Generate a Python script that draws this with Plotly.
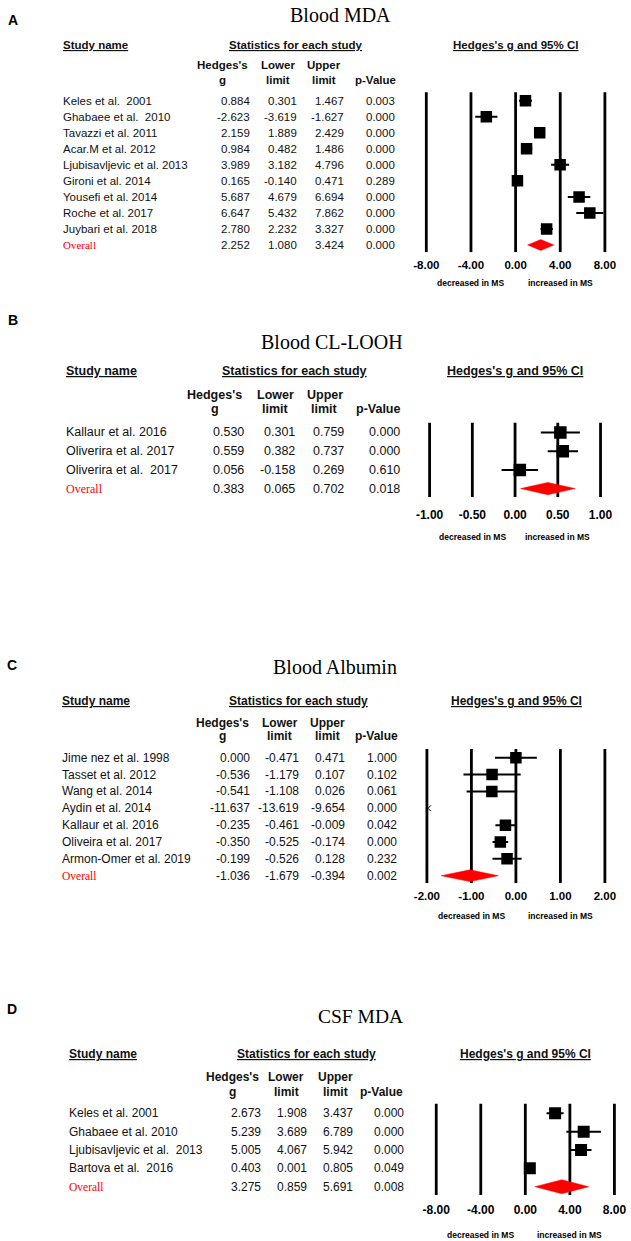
import plotly.graph_objects as go

W, H = 631, 1241

# ---------------- data ----------------
# Panel A: Blood MDA
mda_studies = ["Keles et al.  2001", "Ghabaee et al.  2010", "Tavazzi et al. 2011", "Acar.M et al. 2012",
               "Ljubisavljevic et al. 2013", "Gironi et al. 2014", "Yousefi et al. 2014", "Roche et al. 2017",
               "Juybari et al. 2018"]
mda_g = [0.884, -2.623, 2.159, 0.984, 3.989, 0.165, 5.687, 6.647, 2.780]
mda_lo = [0.301, -3.619, 1.889, 0.482, 3.182, -0.140, 4.679, 5.432, 2.232]
mda_hi = [1.467, -1.627, 2.429, 1.486, 4.796, 0.471, 6.694, 7.862, 3.327]
mda_p = ["0.003", "0.000", "0.000", "0.000", "0.000", "0.289", "0.000", "0.000", "0.000"]
mda_overall = [2.252, 1.080, 3.424]
mda_overall_p = "0.000"
mda_ticks = [-8, -4, 0, 4, 8]

# Panel B: Blood CL-LOOH
cl_studies = ["Kallaur et al. 2016", "Oliverira et al. 2017", "Oliverira et al.  2017"]
cl_g = [0.530, 0.559, 0.056]
cl_lo = [0.301, 0.382, -0.158]
cl_hi = [0.759, 0.737, 0.269]
cl_p = ["0.000", "0.000", "0.610"]
cl_overall = [0.383, 0.065, 0.702]
cl_overall_p = "0.018"
cl_ticks = [-1.0, -0.5, 0.0, 0.5, 1.0]

# Panel C: Blood Albumin
alb_studies = ["Jime nez et al. 1998", "Tasset et al. 2012", "Wang et al. 2014", "Aydin et al. 2014",
               "Kallaur et al. 2016", "Oliveira et al. 2017", "Armon-Omer et al. 2019"]
alb_g = [0.000, -0.536, -0.541, -11.637, -0.235, -0.350, -0.199]
alb_lo = [-0.471, -1.179, -1.108, -13.619, -0.461, -0.525, -0.526]
alb_hi = [0.471, 0.107, 0.026, -9.654, -0.009, -0.174, 0.128]
alb_p = ["1.000", "0.102", "0.061", "0.000", "0.042", "0.000", "0.232"]
alb_overall = [-1.036, -1.679, -0.394]
alb_overall_p = "0.002"
alb_ticks = [-2, -1, 0, 1, 2]

# Panel D: CSF MDA
csf_studies = ["Keles et al. 2001", "Ghabaee et al. 2010", "Ljubisavljevic et al.  2013", "Bartova et al.  2016"]
csf_g = [2.673, 5.239, 5.005, 0.403]
csf_lo = [1.908, 3.689, 4.067, 0.001]
csf_hi = [3.437, 6.789, 5.942, 0.805]
csf_p = ["0.000", "0.000", "0.000", "0.049"]
csf_overall = [3.275, 0.859, 5.691]
csf_overall_p = "0.008"
csf_ticks = [-8, -4, 0, 4, 8]

overall_label = "Overall"
col_headers = [("Hedges's", "g"), ("Lower", "limit"), ("Upper", "limit"), ("", "p-Value")]
direction_labels = ["decreased in MS", "increased in MS"]

# ---------------- layout of each panel (pixels) ----------------
panels = [
    dict(letter="A", title="Blood MDA", studies=mda_studies, g=mda_g, lo=mda_lo, hi=mda_hi, p=mda_p,
         ov=mda_overall, ovp=mda_overall_p, ticks=mda_ticks,
         label_xy=(10, 20), title_xy=(340, 15), title_fs=20, hdr_y=45, stat_cx=295.8, ci_cx=517,
         col_y=(65, 80), col_cx=(221, 277, 324, 375), row0=100.7, step=16.03, name_x=59.6,
         num_x=(250.3, 297.8, 344.9, 396.4), ax_px=(426.7, 606.7), tick_y=265, dir_y=283.3,
         fs=11.5, tick_fs=11.5, dir_fs=8.5, sq=11.5, dh=0.34),
    dict(letter="B", title="Blood CL-LOOH", studies=cl_studies, g=cl_g, lo=cl_lo, hi=cl_hi, p=cl_p,
         ov=cl_overall, ovp=cl_overall_p, ticks=cl_ticks,
         label_xy=(10, 320), title_xy=(332, 341.7), title_fs=20, hdr_y=370.7, stat_cx=293.4, ci_cx=516.1,
         col_y=(395, 409), col_cx=(213.5, 274.6, 324.4, 378.7), row0=432.5, step=18.7, name_x=62.4,
         num_x=(243.5, 295, 344.9, 401.2), ax_px=(430, 602.3), tick_y=515, dir_y=536.7,
         fs=12.5, tick_fs=12, dir_fs=8.5, sq=12.5, dh=0.33),
    dict(letter="C", title="Blood Albumin", studies=alb_studies, g=alb_g, lo=alb_lo, hi=alb_hi, p=alb_p,
         ov=alb_overall, ovp=alb_overall_p, ticks=alb_ticks,
         label_xy=(9.5, 665), title_xy=(335, 666.7), title_fs=20, hdr_y=701, stat_cx=297.6, ci_cx=518,
         col_y=(722.7, 736), col_cx=(221.3, 278.9, 326.6, 376.3), row0=757.7, step=16.86, name_x=58.4,
         num_x=(250.3, 299.8, 346, 398.4), ax_px=(427.3, 606.7), tick_y=896, dir_y=916,
         fs=12, tick_fs=11.5, dir_fs=8.5, sq=11.5, dh=0.35),
    dict(letter="D", title="CSF MDA", studies=csf_studies, g=csf_g, lo=csf_lo, hi=csf_hi, p=csf_p,
         ov=csf_overall, ovp=csf_overall_p, ticks=csf_ticks,
         label_xy=(9.5, 1009), title_xy=(360, 1016.7), title_fs=19.5, hdr_y=1054.3, stat_cx=306, ci_cx=526.5,
         col_y=(1077.3, 1091.7), col_cx=(231.4, 285.7, 335, 381.3), row0=1113.3, step=18.35, name_x=65.2,
         num_x=(260.8, 307.8, 354.1, 405.6), ax_px=(436.7, 616.3), tick_y=1210, dir_y=1235,
         fs=12, tick_fs=12, dir_fs=8.5, sq=12, dh=0.38),
]

SANS = "Liberation Sans, Arial, sans-serif"
SERIF = "Liberation Serif, Times New Roman, serif"
RED = "#ff0000"
INK = "#111111"


def py(pix):
    return 1 - pix / H


def pxp(pix):
    return pix / W


fig = go.Figure()
annotations = []
shapes = []
axes = {}


def ann(text, x, y, yref="paper", xref="paper", xanchor="left", size=12, family=SANS, color=INK, bold=False):
    annotations.append(dict(text=text, x=x, y=y, xref=xref, yref=yref, xanchor=xanchor, yanchor="middle",
                            showarrow=False, borderpad=0,
                            font=dict(family=family, size=size, color=color,
                                      weight="bold" if bold else "normal")))


for k, P in enumerate(panels, start=1):
    xa = "x" if k == 1 else f"x{k}"
    ya = "y" if k == 1 else f"y{k}"
    xkey = "xaxis" if k == 1 else f"xaxis{k}"
    ykey = "yaxis" if k == 1 else f"yaxis{k}"

    names = P["studies"] + [overall_label]
    g = P["g"] + [P["ov"][0]]
    lo = P["lo"] + [P["ov"][1]]
    hi = P["hi"] + [P["ov"][2]]
    pv = P["p"] + [P["ovp"]]
    n = len(names)
    rows = list(range(n))

    t = P["ticks"]
    t0, t1 = t[0], t[-1]
    ppu = (P["ax_px"][1] - P["ax_px"][0]) / (t1 - t0)
    pad = 0.06 * (t1 - t0)
    xdom = [(P["ax_px"][0] - pad * ppu) / W, min(1.0, (P["ax_px"][1] + pad * ppu) / W)]
    xmax = t1 + (xdom[1] * W - P["ax_px"][1]) / ppu
    top_r, bot_r = -0.62, n - 1 + 0.45
    top_px = P["row0"] + top_r * P["step"]
    bot_px = P["row0"] + bot_r * P["step"]
    ydom = [1 - bot_px / H, 1 - top_px / H]
    standoff = max(0, round(P["tick_y"] - bot_px - 0.5 * P["tick_fs"] - 3))

    axes[xkey] = dict(domain=xdom, range=[t0 - pad, xmax], anchor=ya, tickvals=t,
                      ticktext=[f"{v:.2f}" for v in t], ticks="", showgrid=False, zeroline=False,
                      showline=False, ticklabelstandoff=standoff, fixedrange=True,
                      tickfont=dict(family=SANS, size=P["tick_fs"], color="black", weight="bold"))
    axes[ykey] = dict(domain=ydom, range=[bot_r, top_r], anchor=xa, visible=False, fixedrange=True)

    # vertical reference lines
    for v in t:
        shapes.append(dict(type="line", xref=xa, yref=ya, x0=v, x1=v, y0=-0.52, y1=bot_r,
                           line=dict(color="black", width=2.8), layer="below"))

    # confidence intervals
    cx, cy = [], []
    for i in range(n - 1):
        cx += [lo[i], hi[i], None]
        cy += [i, i, None]
    fig.add_trace(go.Scatter(x=cx, y=cy, mode="lines", line=dict(color="black", width=2),
                             xaxis=xa, yaxis=ya, hoverinfo="skip", showlegend=False))
    # point estimates
    fig.add_trace(go.Scatter(x=g[:-1], y=rows[:-1], mode="markers",
                             marker=dict(symbol="square", size=P["sq"], color="black", line=dict(width=0)),
                             xaxis=xa, yaxis=ya, showlegend=False))
    # overall diamond
    r = n - 1
    fig.add_trace(go.Scatter(x=[lo[r], g[r], hi[r], g[r], lo[r]],
                             y=[r, r - P["dh"], r, r + P["dh"], r],
                             mode="lines", fill="toself", fillcolor=RED, line=dict(color=RED, width=0.5),
                             xaxis=xa, yaxis=ya, showlegend=False))
    # off-scale indicators
    for i in range(n - 1):
        if hi[i] < t0:
            ux = 4.0 / ppu
            fig.add_trace(go.Scatter(x=[t0 + ux, t0 + 0.3 * ux, t0 + ux], y=[i - 0.17, i, i + 0.17],
                                     mode="lines", line=dict(color="black", width=1),
                                     xaxis=xa, yaxis=ya, showlegend=False))

    # panel letter & title
    ann(P["letter"], pxp(P["label_xy"][0]), py(P["label_xy"][1]), xanchor="center", size=14, bold=True,
        color="black")
    ann(P["title"], pxp(P["title_xy"][0]), py(P["title_xy"][1]), xanchor="center", size=P["title_fs"],
        family=SERIF, color="black")

    # section headers
    ann("<u>Study name</u>", pxp(P["name_x"]), py(P["hdr_y"]), size=P["fs"], bold=True)
    ann("<u>Statistics for each study</u>", pxp(P["stat_cx"]), py(P["hdr_y"]), xanchor="center",
        size=P["fs"], bold=True)
    ann("<u>Hedges's g and 95% CI</u>", pxp(P["ci_cx"]), py(P["hdr_y"]), xanchor="center",
        size=P["fs"], bold=True)
    for (l1, l2), cxp in zip(col_headers, P["col_cx"]):
        if l1:
            ann(l1, pxp(cxp), py(P["col_y"][0]), xanchor="center", size=P["fs"], bold=True)
        ann(l2, pxp(cxp), py(P["col_y"][1]), xanchor="center", size=P["fs"], bold=True)

    # table rows
    for i in rows:
        if i == n - 1:
            ann(names[i], pxp(P["name_x"]), i, yref=ya, size=P["fs"] - 0.5, family=SERIF, color=RED)
        else:
            ann(names[i], pxp(P["name_x"]), i, yref=ya, size=P["fs"])
        vals = [f"{g[i]:.3f}", f"{lo[i]:.3f}", f"{hi[i]:.3f}", pv[i]]
        for s, xr in zip(vals, P["num_x"]):
            ann(s, pxp(xr), i, yref=ya, xanchor="right", size=P["fs"])

    # direction labels
    for lab, tv in zip(direction_labels, [t[1], t[3]]):
        ann(lab, tv, py(P["dir_y"]), xref=xa, xanchor="center", size=P["dir_fs"], bold=True, color="black")

fig.update_layout(width=W, height=H, margin=dict(l=0, r=0, t=0, b=0), paper_bgcolor="white",
                  plot_bgcolor="white", showlegend=False, hovermode=False,
                  annotations=annotations, shapes=shapes, **axes)

fig.write_html("out.html", config={"displayModeBar": False, "staticPlot": True},
               post_script="document.body.style.margin='0';document.body.style.overflow='hidden';")
